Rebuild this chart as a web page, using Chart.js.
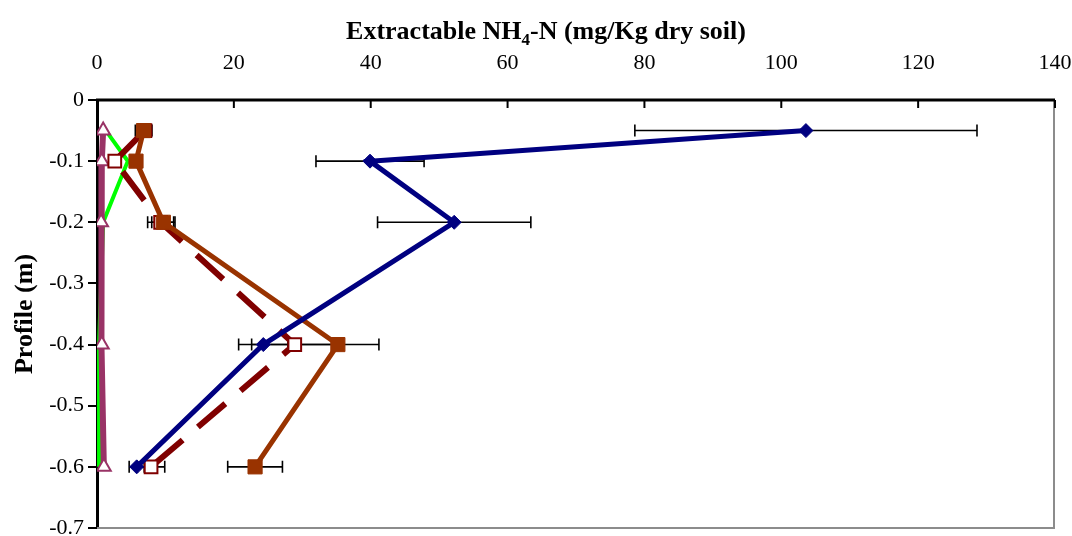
<!DOCTYPE html>
<html>
<head>
<meta charset="utf-8">
<script src="https://cdn.jsdelivr.net/npm/chart.js@4.4.0/dist/chart.umd.min.js"></script>
<style>body{margin:0;background:#fff}</style>
</head>
<body>
<canvas id="chart" width="1072" height="536"></canvas>
<script>
let depths = [-0.05, -0.1, -0.2, -0.4, -0.6];
let navyVals = [103.6, 39.9, 52.2, 24.3, 5.8];
let navyErr = [25, 7.9, 11.2, 3.6, 1.1];
let orangeVals = [6.8, 5.7, 9.7, 35.2, 23.1];
let orangeErr = [1.2, 0.9, 1.7, 6, 4];
let redVals = [7.0, 2.6, 9.3, 28.9, 7.9];
let redErr = [1.0, 0.6, 1.9, 6.3, 2.0];
let greenVals = [1.3, 4.5, 0.9, 0.3, 0.3];
let mauveVals = [0.9, 0.7, 0.6, 0.7, 1.0];
let xTicks = [0, 20, 40, 60, 80, 100, 120, 140];
let yTicks = [0, -0.1, -0.2, -0.3, -0.4, -0.5, -0.6, -0.7];

const serif = '"Liberation Serif", "Times New Roman", serif';

function points(vals) {
  return vals.map((v, i) => ({x: v, y: depths[i]}));
}

// error bars, inner ticks, frame and title
const extras = {
  id: 'extras',
  beforeDatasetsDraw(chart) {
    const ctx = chart.ctx, xs = chart.scales.x, ys = chart.scales.y;
    ctx.save();
    ctx.strokeStyle = '#000';
    ctx.lineWidth = 1.6;
    chart.data.datasets.forEach(ds => {
      if (!ds.errors) return;
      ds.data.forEach((p, i) => {
        const e = ds.errors[i];
        const y = ys.getPixelForValue(p.y);
        const x1 = xs.getPixelForValue(p.x - e), x2 = xs.getPixelForValue(p.x + e);
        ctx.beginPath();
        ctx.moveTo(x1, y); ctx.lineTo(x2, y);
        ctx.moveTo(x1, y - 6); ctx.lineTo(x1, y + 6);
        ctx.moveTo(x2, y - 6); ctx.lineTo(x2, y + 6);
        ctx.stroke();
      });
    });
    ctx.restore();
  },
  afterDraw(chart) {
    const ctx = chart.ctx, a = chart.chartArea, xs = chart.scales.x;
    ctx.save();
    // plot frame right/bottom
    ctx.strokeStyle = '#8c8c8c';
    ctx.lineWidth = 2;
    ctx.beginPath();
    ctx.moveTo(a.left, a.bottom); ctx.lineTo(a.right - 1, a.bottom); ctx.lineTo(a.right - 1, a.top);
    ctx.stroke();
    // top axis inner ticks
    ctx.strokeStyle = '#000';
    ctx.lineWidth = 2;
    xTicks.forEach(t => {
      const x = xs.getPixelForValue(t);
      ctx.beginPath();
      ctx.moveTo(x, a.top); ctx.lineTo(x, a.top + 8);
      ctx.stroke();
    });
    ctx.beginPath();
    ctx.lineWidth = 3;
    ctx.moveTo(a.left - 1, a.top); ctx.lineTo(a.right, a.top);
    ctx.stroke();
    // x title with subscript
    const big = 'bold 26px ' + serif, small = 'bold 17px ' + serif;
    const parts = [['Extractable NH', big, 0], ['4', small, 6], ['-N (mg/Kg dry soil)', big, 0]];
    let w = 0;
    parts.forEach(p => { ctx.font = p[1]; w += ctx.measureText(p[0]).width; });
    let x = 546 - w / 2;
    ctx.fillStyle = '#000';
    ctx.textBaseline = 'alphabetic';
    parts.forEach(p => {
      ctx.font = p[1];
      ctx.fillText(p[0], x, 39 + p[2]);
      x += ctx.measureText(p[0]).width;
    });
    ctx.restore();
  }
};

let ctx = document.getElementById('chart').getContext('2d');
let chart = new Chart(ctx, {
  type: 'scatter',
  data: {
    datasets: [
      {
        label: 'navy',
        data: points(navyVals),
        errors: navyErr,
        showLine: true,
        borderColor: '#000080',
        backgroundColor: '#000080',
        borderWidth: 5,
        pointStyle: 'rectRot',
        pointRadius: 7,
        pointBorderWidth: 1,
        order: 0
      },
      {
        label: 'orange',
        data: points(orangeVals),
        errors: orangeErr,
        showLine: true,
        borderColor: '#993300',
        backgroundColor: '#993300',
        borderWidth: 5,
        pointStyle: 'rect',
        pointRadius: 10,
        pointBorderWidth: 1,
        order: 1
      },
      {
        label: 'red',
        data: points(redVals),
        errors: redErr,
        showLine: true,
        borderColor: '#800000',
        backgroundColor: '#800000',
        borderWidth: 6,
        borderDash: [36, 20],
        pointStyle: 'rect',
        pointRadius: 9,
        pointBackgroundColor: '#ffffff',
        pointBorderColor: '#800000',
        pointBorderWidth: 2,
        order: 2
      },
      {
        label: 'mauve',
        data: points(mauveVals),
        showLine: true,
        borderColor: '#993366',
        backgroundColor: '#993366',
        borderWidth: 6,
        pointStyle: 'triangle',
        pointRadius: 8,
        pointBackgroundColor: '#ffffff',
        pointBorderColor: '#993366',
        pointBorderWidth: 2,
        order: 3
      },
      {
        label: 'green',
        data: points(greenVals),
        showLine: true,
        borderColor: '#00ff00',
        backgroundColor: '#00ff00',
        borderWidth: 4,
        pointRadius: 0,
        order: 4
      }
    ]
  },
  options: {
    responsive: false,
    animation: false,
    layout: {autoPadding: false, padding: {left: 0, top: 0, right: 17, bottom: 8}},
    plugins: {legend: {display: false}, tooltip: {enabled: false}},
    scales: {
      x: {
        type: 'linear',
        position: 'top',
        min: 0,
        max: 140,
        afterBuildTicks: s => { s.ticks = xTicks.map(v => ({value: v})); },
        afterFit: s => { s.height = 100; s.paddingLeft = 0; s.paddingRight = 0; },
        grid: {display: true, drawOnChartArea: false, drawTicks: false},
        border: {display: false},
        ticks: {color: '#000', padding: 24, font: {family: serif, size: 22}, maxRotation: 0}
      },
      y: {
        type: 'linear',
        min: -0.7,
        max: 0,
        afterBuildTicks: s => { s.ticks = yTicks.map(v => ({value: v})); },
        afterFit: s => { s.width = 97; s.paddingTop = 0; s.paddingBottom = 0; },
        grid: {drawOnChartArea: false, drawTicks: true, tickLength: 9, color: '#000', lineWidth: 2},
        border: {display: true, color: '#000', width: 3},
        title: {display: true, text: 'Profile (m)', color: '#000', font: {family: serif, size: 26, weight: 'bold'}, padding: {top: 10, bottom: 0}},
        ticks: {
          color: '#000',
          padding: 4,
          font: {family: serif, size: 22},
          callback: v => String(Math.round(v * 10) / 10)
        }
      }
    }
  },
  plugins: [extras]
});
</script>
</body>
</html>
